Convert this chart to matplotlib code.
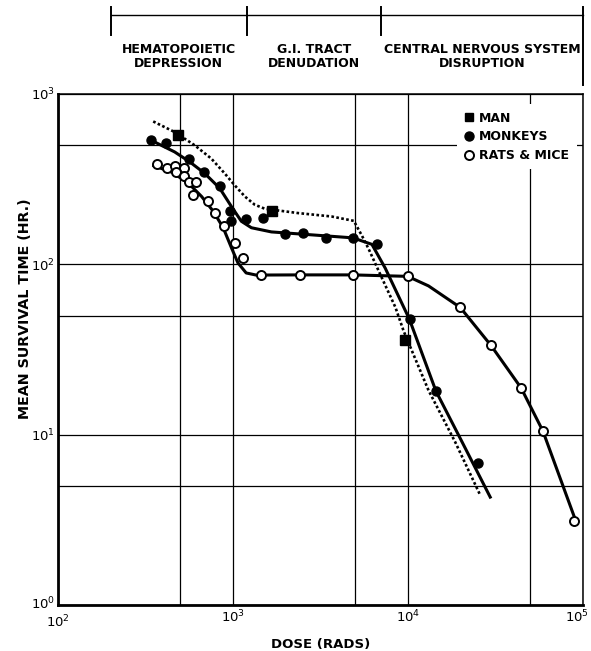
import numpy as np
import matplotlib
matplotlib.use("Agg")
import matplotlib.pyplot as plt
import matplotlib.transforms as mtransforms
from matplotlib.lines import Line2D
from matplotlib.ticker import LogLocator, NullFormatter

# points (dose in rads, mean survival time in hours)
man_dose = [485, 1670, 9660]
man_time = [572, 206, 36]

monkey_dose = [339, 416, 558, 682, 839, 957, 978, 1190, 1480, 1970, 2510, 3390,
               4850, 6680, 10200, 14500, 25000]
monkey_time = [535, 519, 413, 350, 290, 206, 179, 185, 187, 151, 152, 142,
               143, 132, 47.7, 18.0, 6.8]

rats_dose = [369, 420, 464, 523, 474, 528, 562, 613, 589, 722, 794, 889, 1020, 1140,
             1450, 2400, 4850, 9960, 19900, 29800, 44300, 59000, 89100]
rats_time = [386, 366, 379, 369, 347, 331, 306, 306, 256, 236, 200, 167, 134, 109,
             86.7, 86.7, 86.7, 85, 55.8, 33.4, 18.8, 10.5, 3.1]

# hand drawn curves through the points
man_curve_dose = [350, 464, 604, 751, 896, 1020, 1170, 1330, 1520, 2350, 3650, 4900,
                  5460, 5960, 7100, 8470, 9440, 13100, 18600, 25900]
man_curve_time = [690, 598, 500, 418, 342, 292, 250, 224, 212, 200, 191, 180,
                  147, 123, 83, 56, 40.6, 18.2, 9.06, 4.4]

monkey_curve_dose = [356, 464, 565, 689, 839, 978, 1116, 1274, 1657, 2570, 4850,
                     6220, 7410, 10180, 14450, 20370, 29500]
monkey_curve_time = [523, 457, 400, 342, 280, 219, 179, 164, 155, 150, 143,
                     131, 95, 47.7, 18.0, 9.06, 4.3]

rats_curve_dose = [353, 449, 557, 662, 771, 879, 980, 1067, 1189, 1355, 2400, 4850,
                   9960, 13100, 19900, 29800, 44300, 59000, 89100]
rats_curve_time = [379, 347, 299, 250, 205, 164, 125, 102, 89, 86.5, 86.7, 86.7,
                   85, 74.7, 55.8, 33.4, 18.8, 10.5, 3.3]

phase_edges = [200, 1200, 7000, 100000]
phase_names = ["HEMATOPOIETIC\nDEPRESSION", "G.I. TRACT\nDENUDATION",
               "CENTRAL NERVOUS SYSTEM\nDISRUPTION"]
legend_labels = ["MAN", "MONKEYS", "RATS & MICE"]

plt.rcParams["font.family"] = "DejaVu Sans"
plt.rcParams["mathtext.fontset"] = "dejavusans"

fig = plt.figure(figsize=(5.91, 6.51), dpi=100)
ax = fig.add_axes([58 / 591, 46 / 651, 525 / 591, 511 / 651])

ax.set_xscale("log")
ax.set_yscale("log")
ax.set_xlim(1e2, 1e5)
ax.set_ylim(1e0, 1e3)

ax.xaxis.set_minor_locator(LogLocator(base=10, subs=[5]))
ax.yaxis.set_minor_locator(LogLocator(base=10, subs=[5]))
ax.xaxis.set_minor_formatter(NullFormatter())
ax.yaxis.set_minor_formatter(NullFormatter())
ax.grid(True, which="both", color="black", lw=0.9, zorder=0)
ax.tick_params(which="both", length=0, labelsize=9.5)
ax.tick_params(axis="x", pad=3)
ax.tick_params(axis="y", pad=2)

for side, w in [("left", 2.0), ("bottom", 2.0), ("top", 1.1), ("right", 1.1)]:
    ax.spines[side].set_linewidth(w)

# curves
ax.plot(man_curve_dose, man_curve_time, color="black", lw=1.9,
        ls=(0, (1, 0.9)), zorder=2)
ax.plot(monkey_curve_dose, monkey_curve_time, color="black", lw=2.2, zorder=2)
ax.plot(rats_curve_dose, rats_curve_time, color="black", lw=2.2, zorder=2)

# points
ax.plot(man_dose, man_time, ls="none", marker="s", ms=6.5, color="black", zorder=4)
ax.plot(monkey_dose, monkey_time, ls="none", marker="o", ms=6.5, color="black", zorder=4)
ax.plot(rats_dose, rats_time, ls="none", marker="o", ms=6.5, mfc="white",
        mec="black", mew=1.4, zorder=4)

ax.set_xlabel("DOSE (RADS)", fontsize=9.5, fontweight="bold", labelpad=5)
ax.set_ylabel("MEAN SURVIVAL TIME (HR.)", fontsize=10.3, fontweight="bold")
ax.yaxis.set_label_coords(-0.05, 0.58)

# nudge corner labels like the original: 10^5 inwards, 10^2 / 10^0 apart
fig.canvas.draw()
def shift(lab, dx, dy):
    lab.set_transform(lab.get_transform() +
                      mtransforms.ScaledTranslation(dx / 100, dy / 100, fig.dpi_scale_trans))

xlabs = ax.get_xticklabels()
ylabs = ax.get_yticklabels()
for lab, v in zip(xlabs, ax.get_xticks()):
    if np.isclose(v, 1e5):
        shift(lab, -6, 0)
    if np.isclose(v, 1e2):
        shift(lab, 0, -5)
for lab, v in zip(ylabs, ax.get_yticks()):
    if np.isclose(v, 1e0):
        shift(lab, 0, 3)

handles = [Line2D([], [], ls="none", marker="s", ms=6, color="black"),
           Line2D([], [], ls="none", marker="o", ms=6.5, color="black"),
           Line2D([], [], ls="none", marker="o", ms=6.5, mfc="white", mec="black", mew=1.4)]
leg = ax.legend(handles, legend_labels, loc="upper left", bbox_to_anchor=(0.755, 0.985),
                frameon=True, fancybox=False, framealpha=1, edgecolor="none",
                facecolor="white", handlelength=0.8, handletextpad=0.4,
                labelspacing=0.45, borderpad=0.6, borderaxespad=0.2,
                prop={"size": 9, "weight": "bold"})
leg.set_zorder(5)

# phase brackets above the plot
tr = ax.get_xaxis_transform()
ax.plot([phase_edges[0], phase_edges[-1]], [1.155, 1.155], color="black", lw=1.0,
        transform=tr, clip_on=False)
for i, e in enumerate(phase_edges):
    lo = 1.018 if i == len(phase_edges) - 1 else 1.115
    ax.plot([e, e], [lo, 1.170], color="black", lw=1.4, transform=tr, clip_on=False)
for i, name in enumerate(phase_names):
    xc = np.sqrt(phase_edges[i] * phase_edges[i + 1])
    ax.text(xc, 1.073, name, transform=tr, ha="center", va="center",
            fontsize=9, fontweight="bold", linespacing=1.1)

fig.savefig("out.png", dpi=100)
